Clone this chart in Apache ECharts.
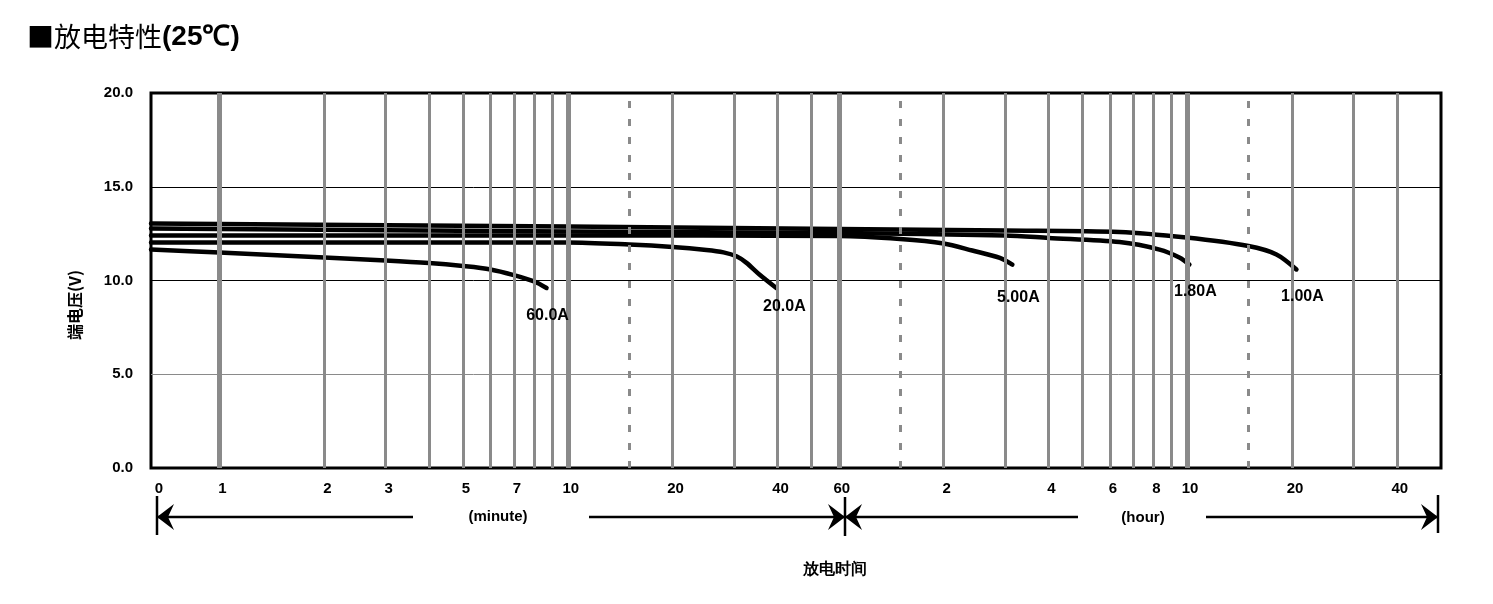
<!DOCTYPE html>
<html>
<head>
<meta charset="utf-8">
<script src="https://cdn.jsdelivr.net/npm/echarts@6/dist/echarts.min.js"></script>
<style>
  html, body { margin: 0; padding: 0; background: #fff; }
  #main { width: 1493px; height: 604px; }
</style>
</head>
<body>
<div id="main"></div>
<script>
// discharge time in minutes, terminal voltage in V
const t60A = [0.636, 1, 2, 3, 4, 5, 6, 7, 8, 8.69];
const v60A = [11.65, 11.49, 11.23, 11.07, 10.93, 10.77, 10.59, 10.29, 9.95, 9.6];
const t20A = [0.636, 1, 3, 10, 15, 20, 25, 28, 30.5, 32.6, 35.5, 39.7];
const v20A = [12.03, 12.03, 12.03, 12.03, 11.92, 11.79, 11.63, 11.5, 11.29, 10.94, 10.32, 9.6];
const t5A = [0.636, 1, 10, 60, 90, 120, 145, 174, 189];
const v5A = [12.4, 12.4, 12.4, 12.37, 12.21, 11.97, 11.6, 11.21, 10.85];
const t18A = [0.636, 10, 60, 180, 240, 384, 500, 570, 609];
const v18A = [12.77, 12.61, 12.53, 12.4, 12.27, 12.05, 11.65, 11.23, 10.85];
const t1A = [0.636, 10, 60, 180, 384, 597, 900, 1083, 1236];
const v1A = [13.04, 12.88, 12.75, 12.67, 12.59, 12.29, 11.84, 11.39, 10.59];

const curveNames = ['60.0A', '20.0A', '5.00A', '1.80A', '1.00A'];
const curveTimes = [t60A, t20A, t5A, t18A, t1A];
const curveVolts = [v60A, v20A, v5A, v18A, v1A];
const labelOffsets = [[1, 28], [8, 19], [6, 33], [6, 27], [6, 27]];

// vertical grid (minutes)
const thickGrid = [1, 10, 60, 600];
const thinGrid = [2, 3, 4, 5, 6, 7, 8, 9, 20, 30, 40, 50, 120, 180, 240, 300, 360, 420, 480, 540, 1200, 1800, 2400];
const dashGrid = [15, 90, 900];

// tick labels: minutes up to 60, then hours
const tickValues = [0.636, 1, 2, 3, 5, 7, 10, 20, 40, 60, 120, 240, 360, 480, 600, 1200, 2400];
const tickLabels = ['0', '1', '2', '3', '5', '7', '10', '20', '40', '60', '2', '4', '6', '8', '10', '20', '40'];

const xMin = 0.636, xMax = 3214;
const gray = '#8a8a8a';
const boldFont = 'Arial, "Liberation Sans", sans-serif';

var chart = echarts.init(document.getElementById('main'));

var gridLines = [];
thickGrid.forEach(function (v) {
  gridLines.push({ xAxis: v, lineStyle: { color: gray, width: 5, type: 'solid' }, label: { show: false } });
});
thinGrid.forEach(function (v) {
  gridLines.push({ xAxis: v, lineStyle: { color: gray, width: 3, type: 'solid' }, label: { show: false } });
});
dashGrid.forEach(function (v) {
  gridLines.push({ xAxis: v, lineStyle: { color: gray, width: 3, type: [7, 11] }, label: { show: false } });
});

var tickMarks = tickValues.map(function (v, i) {
  return {
    xAxis: v,
    lineStyle: { color: 'rgba(0,0,0,0)', width: 1 },
    label: { show: true, formatter: tickLabels[i], offset: [i === 0 ? 7 : 3, 0] }
  };
});

var series = [{
  type: 'line',
  data: [],
  z: 1,
  silent: true,
  markLine: {
    silent: true,
    symbol: ['none', 'none'],
    animation: false,
    data: gridLines
  }
}, {
  type: 'line',
  data: [],
  z: 1,
  silent: true,
  markLine: {
    silent: true,
    symbol: ['none', 'none'],
    animation: false,
    label: {
      show: true,
      position: 'start',
      distance: 13,
      color: '#000',
      fontSize: 15,
      fontWeight: 'bold',
      fontFamily: boldFont
    },
    data: tickMarks
  }
}];

curveNames.forEach(function (name, k) {
  var ts = curveTimes[k], vs = curveVolts[k];
  var n = ts.length - 1;
  series.push({
    name: name,
    type: 'line',
    z: 3,
    data: ts.map(function (t, i) { return [t, vs[i]]; }),
    smooth: 0.3,
    symbol: 'none',
    lineStyle: { color: '#000', width: 4.5, cap: 'round', join: 'round' },
    markPoint: {
      symbol: 'circle',
      symbolSize: 0,
      silent: true,
      animation: false,
      label: {
        show: true,
        position: 'inside',
        formatter: name,
        offset: labelOffsets[k],
        color: '#000',
        fontSize: 16,
        fontWeight: 'bold',
        fontFamily: boldFont
      },
      data: [{ coord: [ts[n], vs[n]] }]
    }
  });
});

function arrowHead(tip, dir) {
  // dir: -1 points left, 1 points right
  var b = tip - dir * 17, n = tip - dir * 11;
  return {
    type: 'polygon',
    shape: { points: [[tip, 517], [b, 504], [n, 517], [b, 530]] },
    style: { fill: '#000' }
  };
}
function hLine(x1, x2) {
  return { type: 'line', shape: { x1: x1, y1: 517, x2: x2, y2: 517 }, style: { stroke: '#000', lineWidth: 2.5 } };
}
function vBar(x, y1, y2) {
  return { type: 'line', shape: { x1: x, y1: y1, x2: x, y2: y2 }, style: { stroke: '#000', lineWidth: 2.5 } };
}
function txt(x, y, s, size) {
  return {
    type: 'text', x: x, y: y,
    style: { text: s, fill: '#000', font: 'bold ' + size + 'px ' + boldFont, align: 'center', verticalAlign: 'middle' }
  };
}

chart.setOption({
  animation: false,
  backgroundColor: '#fff',
  title: {
    text: '{a|■放电特性}{b|(25℃)}',
    left: 22,
    top: 18,
    textStyle: {
      rich: {
        a: { fontSize: 27, fontWeight: 'normal', fontFamily: '"Noto Sans CJK SC"', color: '#000' },
        b: { fontSize: 28, fontWeight: 'bold', fontFamily: boldFont, color: '#000' }
      }
    }
  },
  grid: {
    left: 151, top: 93, width: 1290, height: 375,
    show: true, borderColor: '#000', borderWidth: 3, backgroundColor: 'transparent'
  },
  xAxis: {
    type: 'log',
    logBase: 10,
    min: xMin,
    max: xMax,
    axisLine: { show: false },
    axisTick: { show: false },
    axisLabel: { show: false },
    splitLine: { show: false }
  },
  yAxis: {
    type: 'value',
    min: 0,
    max: 20,
    interval: 5,
    axisLine: { show: false },
    axisTick: { show: false },
    axisLabel: {
      margin: 18,
      color: '#000',
      fontSize: 15,
      fontWeight: 'bold',
      fontFamily: boldFont,
      formatter: function (v) { return v.toFixed(1); }
    },
    splitLine: { show: true, lineStyle: { color: ['#000', gray, '#000', '#000', '#000'], width: 1 } }
  },
  series: series,
  graphic: [
    {
      type: 'text', x: 75, y: 305, rotation: Math.PI / 2,
      style: { text: '端电压(V)', fill: '#000', font: 'bold 16px "Noto Sans CJK SC", ' + boldFont, align: 'center', verticalAlign: 'middle' }
    },
    txt(835, 570, '放电时间', 16),
    hLine(157, 413), vBar(157, 496, 535), arrowHead(157, -1),
    txt(498, 517, '(minute)', 15),
    hLine(589, 1078), vBar(845, 497, 536), arrowHead(845, 1), arrowHead(845, -1),
    txt(1143, 518, '(hour)', 15),
    hLine(1206, 1438), vBar(1438, 495, 533), arrowHead(1438, 1)
  ]
});
</script>
</body>
</html>
